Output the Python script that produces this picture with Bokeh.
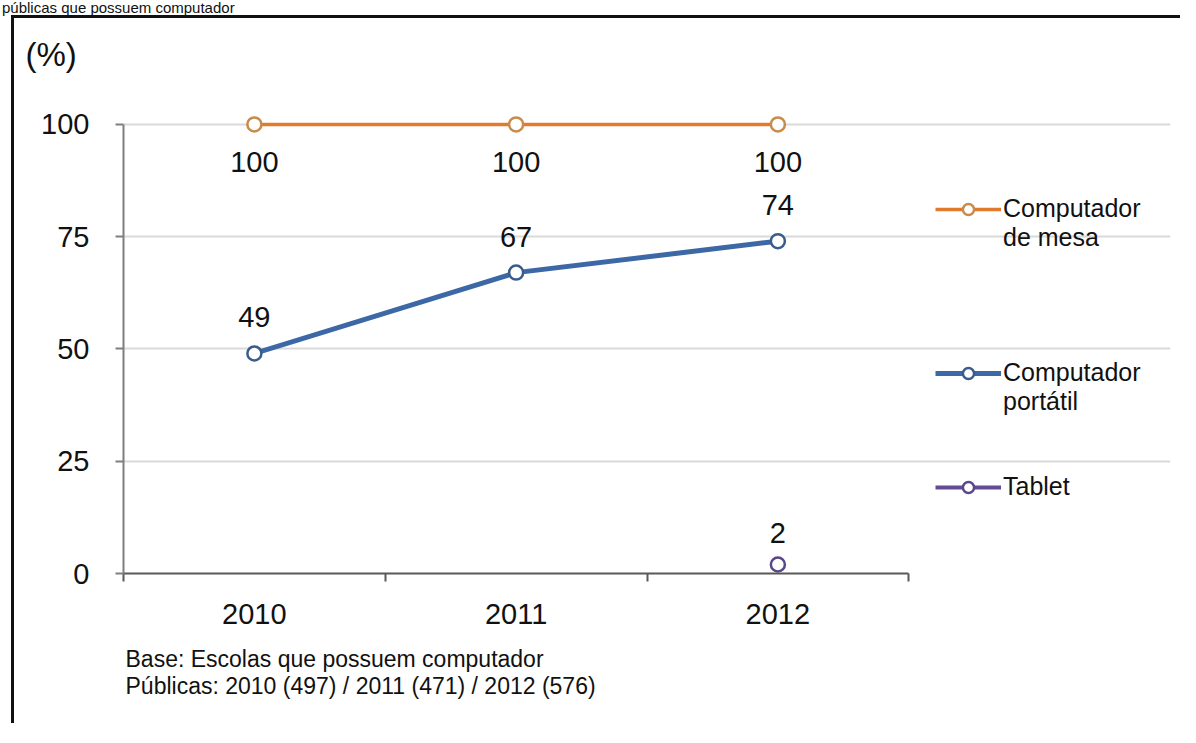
from bokeh.plotting import figure
from bokeh.models import (ColumnDataSource, Range1d, FixedTicker, LabelSet,
                          Legend, LegendItem, Div, Title)
from bokeh.core.properties import value
from bokeh.layouts import column
from bokeh.embed import file_html
from bokeh.resources import INLINE

# ---- data ----
years = [2010, 2011, 2012]
year_labels = ["2010", "2011", "2012"]
desktop = [100, 100, 100]
laptop = [49, 67, 74]
tablet_years = [2012]
tablet = [2]
y_ticks = [0, 25, 50, 75, 100]
series_names = ["Computador\nde mesa", "Computador\nportátil", "Tablet"]
footnotes = ["Base: Escolas que possuem computador",
             "Públicas: 2010 (497) / 2011 (471) / 2012 (576)"]
unit_label = "(%)"
top_text = "públicas que possuem computador"

FONT = "Liberation Sans"
ORANGE = "#E07A2C"
ORANGE_EDGE = "#C98A4A"
BLUE = "#3D68A6"
BLUE_EDGE = "#3A5C8C"
PURPLE = "#634C94"
PURPLE_EDGE = "#5A4689"

p = figure(x_range=Range1d(2009.5, 2013.5), y_range=Range1d(0, 108),
           frame_width=1047, frame_height=485,
           min_border_left=109, min_border_top=69, min_border_right=10,
           min_border_bottom=150,
           output_backend="svg", toolbar_location=None, tools="")
p.outline_line_color = None
p.background_fill_color = "white"
p.border_fill_color = "white"

# axes
xa = p.xaxis[0]
xa.ticker = FixedTicker(ticks=years, minor_ticks=[2009.5, 2010.5, 2011.5, 2012.5])
xa.major_label_overrides = dict(zip(years, year_labels))
xa.major_tick_line_color = None
xa.minor_tick_out = 8
xa.minor_tick_in = 0
xa.minor_tick_line_color = "#595959"
xa.minor_tick_line_width = 2
xa.axis_line_color = "#595959"
xa.axis_line_width = 2
xa.bounds = (2009.5, 2012.5)
xa.major_label_text_font = FONT
xa.major_label_text_font_size = "29px"
xa.major_label_text_color = "#111111"
xa.major_label_standoff = 22

ya = p.yaxis[0]
ya.ticker = FixedTicker(ticks=y_ticks, minor_ticks=[])
ya.major_tick_out = 8
ya.major_tick_in = 0
ya.major_tick_line_color = "#7F7F7F"
ya.major_tick_line_width = 2
ya.axis_line_color = "#7F7F7F"
ya.axis_line_width = 2
ya.bounds = (0, 100)
ya.major_label_text_font = FONT
ya.major_label_text_font_size = "29px"
ya.major_label_text_color = "#111111"
ya.major_label_standoff = 26

p.xgrid.visible = False
p.ygrid.ticker = FixedTicker(ticks=y_ticks[1:], minor_ticks=[])
p.ygrid.grid_line_color = "#D9D9D9"
p.ygrid.grid_line_width = 2
p.ygrid.bounds = (2009.5, 2012.5)

# series
src_d = ColumnDataSource(dict(x=years, y=desktop, t=[str(v) for v in desktop]))
src_l = ColumnDataSource(dict(x=years, y=laptop, t=[str(v) for v in laptop]))
src_t = ColumnDataSource(dict(x=tablet_years, y=tablet, t=[str(v) for v in tablet]))

l1 = p.line("x", "y", source=src_d, line_color=ORANGE, line_width=3.5)
s1 = p.scatter("x", "y", source=src_d, size=14, fill_color="white",
               line_color=ORANGE_EDGE, line_width=2.5)
l2 = p.line("x", "y", source=src_l, line_color=BLUE, line_width=5)
s2 = p.scatter("x", "y", source=src_l, size=14, fill_color="white",
               line_color=BLUE_EDGE, line_width=2.5)
l3 = p.line("x", "y", source=src_t, line_color=PURPLE, line_width=4)
s3 = p.scatter("x", "y", source=src_t, size=14, fill_color="white",
               line_color=PURPLE_EDGE, line_width=2.5)

for src, off in ((src_d, -38), (src_l, 36), (src_t, 32)):
    p.add_layout(LabelSet(x="x", y="y", text="t", source=src, y_offset=off,
                          text_align="center", text_baseline="middle",
                          text_font=value(FONT), text_font_size=value("29px"),
                          text_color="#111111"))

# legends (one per entry, positions follow the reference); a leading blank
# line keeps the marker level with the first line of a two-line label
leg_pos = [(812, 321), (812, 157), (812, 72)]
for (r_line, r_sc), name, pos in zip(((l1, s1), (l2, s2), (l3, s3)), series_names, leg_pos):
    label = ("\n" + name) if "\n" in name else name
    lg = Legend(items=[LegendItem(label=label, renderers=[r_line, r_sc])],
                location=pos, padding=0, margin=0, glyph_width=66, glyph_height=28,
                label_standoff=2, border_line_color=None, background_fill_alpha=0,
                label_text_font=FONT, label_text_font_size="25px",
                label_text_color="#111111")
    p.add_layout(lg, "center")

# unit label above the frame, footnotes below the axis
p.add_layout(Title(text=unit_label, align="left", offset=-98, standoff=31,
                   text_font=FONT, text_font_size="33px", text_font_style="normal",
                   text_color="#111111"), "above")
p.add_layout(Title(text="\n".join(footnotes), align="left", offset=2, standoff=35,
                   text_font=FONT, text_font_size="23px", text_font_style="normal",
                   text_line_height=1.04, text_color="#111111"), "below")

top = Div(text=top_text, styles={"font-family": FONT, "font-size": "15px",
                                 "color": "#111", "margin-top": "0px",
                                 "margin-left": "2px", "line-height": "16px",
                                 "height": "16px"})
box = column(p, styles={"border-left": "3px solid #111", "border-top": "3px solid #111",
                        "margin-left": "11px", "margin-top": "-6px"})
layout = column(top, box)

open("out.html", "w").write(file_html(layout, INLINE))
